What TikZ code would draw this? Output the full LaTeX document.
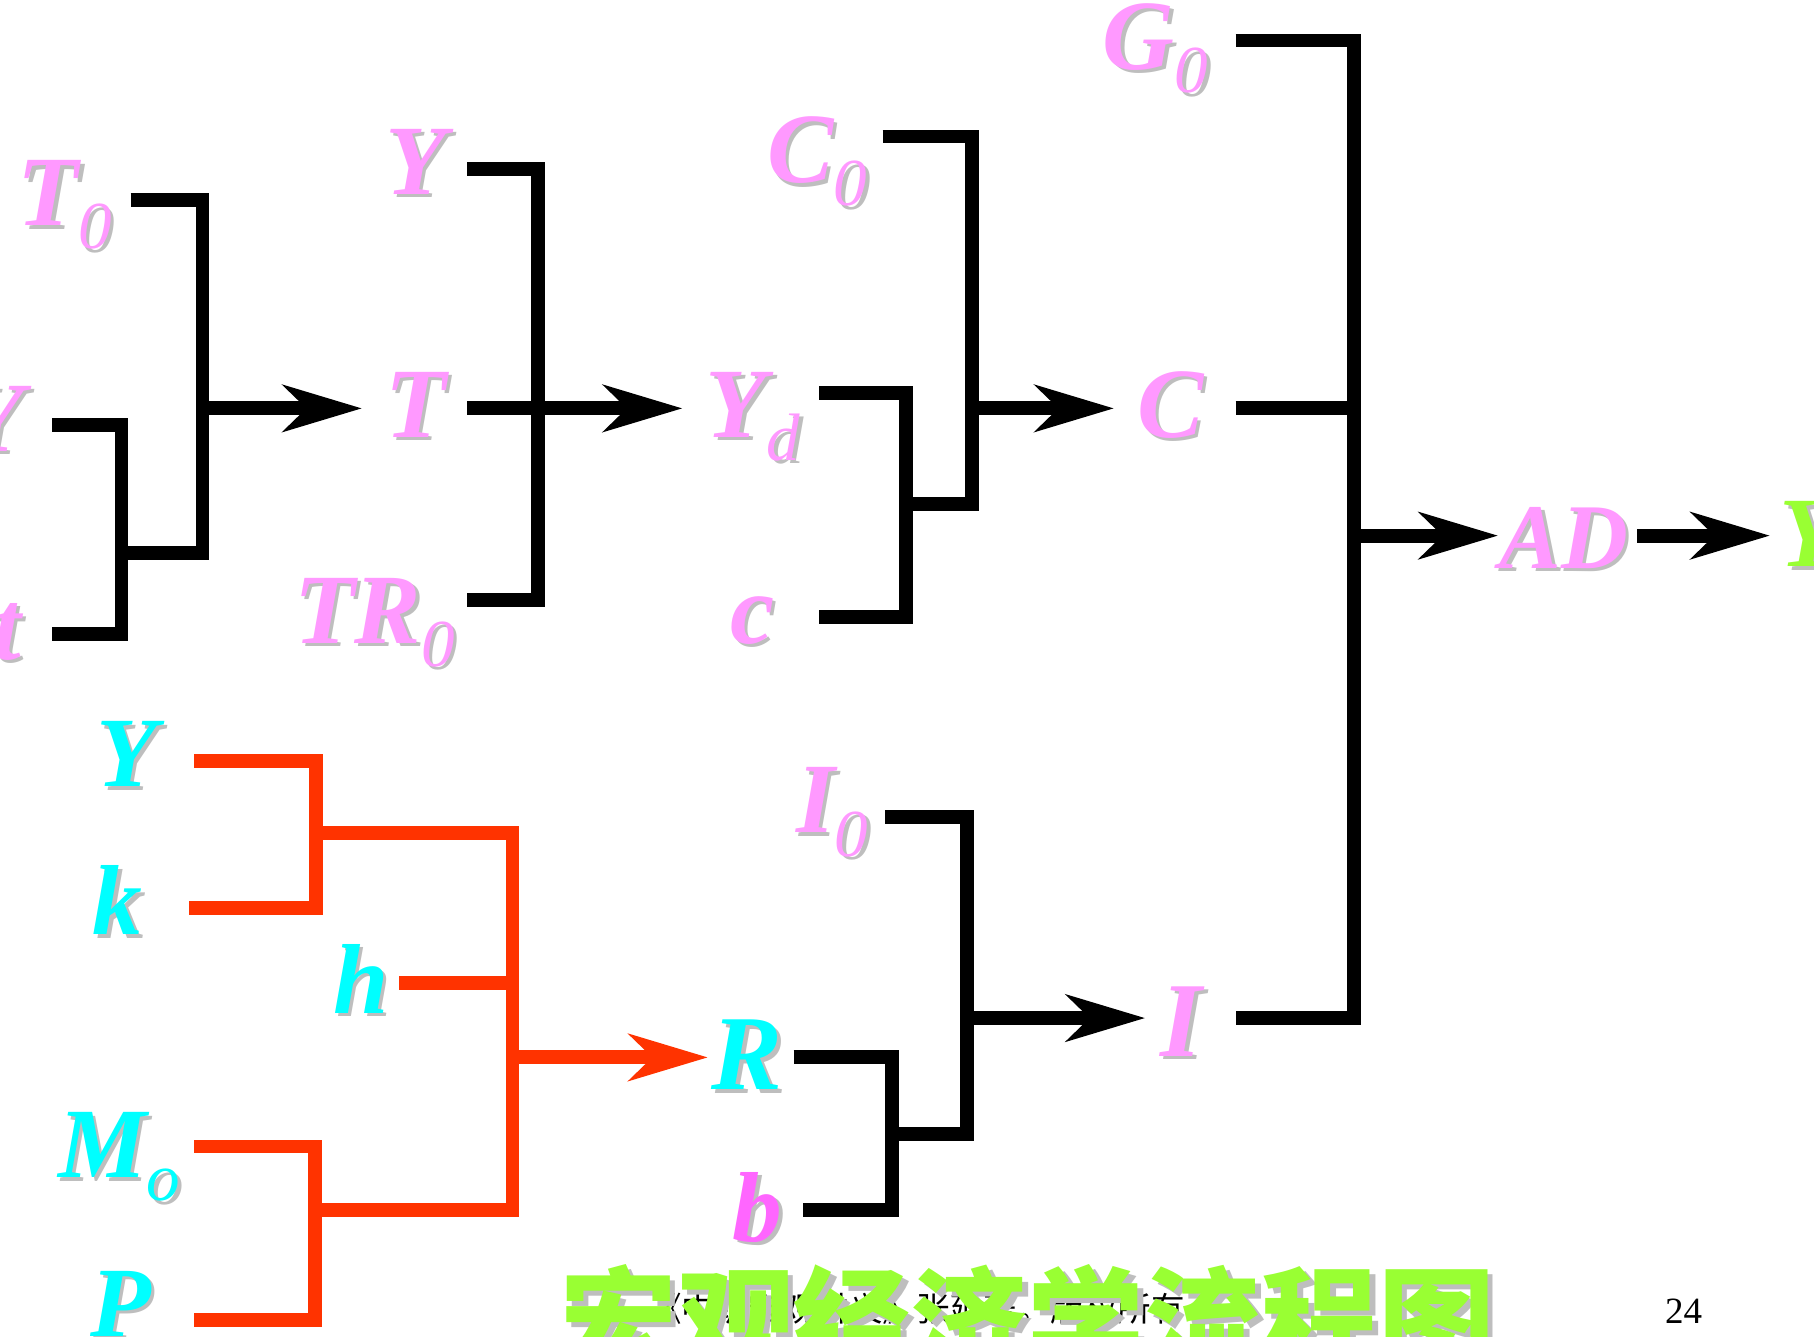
\documentclass[tikz,border=0pt]{standalone}
\usepackage{fontspec}
\setmainfont{Liberation Serif}
\newfontfamily\cjk{Noto Sans CJK SC}
\usetikzlibrary{arrows.meta}
\definecolor{pinkc}{RGB}{255,153,255}
\definecolor{cyanc}{RGB}{0,255,255}
\definecolor{magc}{RGB}{255,102,255}
\definecolor{greenc}{RGB}{153,255,51}
\definecolor{redc}{RGB}{255,51,0}
\definecolor{shgray}{RGB}{190,190,190}
\newcommand\mainf{\fontsize{86}{86}\selectfont\bfseries\itshape}
\newcommand\subf{\fontsize{58}{58}\selectfont\mdseries\itshape}
\newcommand\sh[2]{\rlap{\kern3pt\raisebox{-3pt}{\color{shgray}#2}}{\color{#1}#2}}
\newcommand\shb[2]{\rlap{\kern5pt\raisebox{-5pt}{\color{shgray}#2}}{\color{#1}#2}}
\newcommand\subs[2]{\raisebox{-20pt}{\subf\sh{#1}{#2}}}
\tikzset{
  lbl/.style={anchor=base west, inner sep=0pt, font=\mainf},
  blk/.style={line width=12pt, draw=black, line join=miter},
  red/.style={line width=12pt, draw=redc, line join=miter},
  arr/.style={blk, -{Stealth[length=68pt, width=40pt, inset=20pt]}},
  rarr/.style={red, -{Stealth[length=68pt, width=40pt, inset=20pt, fill=redc]}},
}
\begin{document}
\begin{tikzpicture}[x=1pt, y=-1pt]
\useasboundingbox (0,0) rectangle (1568,1155);
% ---------- labels ----------
\node[lbl] (YA) at (-32,390) {\sh{pinkc}{Y}};
\node[lbl] (tA) at (-6,570) {\sh{pinkc}{t}};
\node[lbl] (T0) at (15,195) {\sh{pinkc}{T}\subs{pinkc}{0}};
\node[lbl] (YB) at (333,168) {\sh{pinkc}{Y}};
\node[lbl] (TB) at (333,378) {\sh{pinkc}{T}};
\node[lbl] (TR0) at (254,556) {\sh{pinkc}{TR}\subs{pinkc}{0}};
\node[lbl] (C0) at (663,158) {\sh{pinkc}{C}\subs{pinkc}{0}};
\node[lbl] (Yd) at (610,378) {\sh{pinkc}{Y}\subs{pinkc}{d}};
\node[lbl] (cc) at (631,556) {\sh{pinkc}{c}};
\node[lbl] (G0) at (953,60) {\sh{pinkc}{G}\subs{pinkc}{0}};
\node[lbl] (CD) at (983,378) {\sh{pinkc}{C}};
\node[lbl, font=\fontsize{92}{92}\selectfont\bfseries\itshape] (ID) at (1003,913) {\sh{pinkc}{I}};
\node[lbl, font=\fontsize{80}{80}\selectfont\bfseries\itshape] (AD) at (1296,491) {\sh{pinkc}{AD}};
\node[lbl] (YE) at (1538,490) {\sh{greenc}{Y}};
\node[lbl] (I0) at (688,720) {\sh{pinkc}{I}\subs{pinkc}{0}};
\node[lbl, font=\fontsize{92}{92}\selectfont\bfseries\itshape] (R) at (615,942) {\sh{cyanc}{R}};
\node[lbl] (b) at (633,1073) {\sh{magc}{b}};
\node[lbl] (YF) at (83,680) {\sh{cyanc}{Y}};
\node[lbl] (k) at (80,808) {\sh{cyanc}{k}};
\node[lbl] (h) at (288,876) {\sh{cyanc}{h}};
\node[lbl] (Mo) at (50,1018) {\sh{cyanc}{M}\subs{cyanc}{o}};
\node[lbl] (P) at (78,1155) {\sh{cyanc}{P}};
% ---------- coordinates ----------
\coordinate (aY) at (45,367);   \coordinate (aYc) at (105,548); \coordinate (at) at (45,548);
\coordinate (aT0) at (113,173); \coordinate (aJc) at (175,478); \coordinate (aJ) at (105,478);
\coordinate (aS) at (175,353);  \coordinate (aTip) at (313,353);
\coordinate (bY) at (404,146);  \coordinate (bTc) at (465,519); \coordinate (bTR) at (404,519);
\coordinate (bT) at (404,353);  \coordinate (bS) at (465,353);  \coordinate (bTip) at (590,353);
\coordinate (cC0) at (763,118); \coordinate (cJc) at (840,436); \coordinate (cJ) at (783,436);
\coordinate (cYd) at (708,340); \coordinate (ccc) at (783,533); \coordinate (cc0) at (708,533);
\coordinate (cS) at (840,353);  \coordinate (cTip) at (963,353);
\coordinate (dG0) at (1068,35); \coordinate (dIc) at (1170,880); \coordinate (dI) at (1068,880);
\coordinate (dC) at (1068,353); \coordinate (dCS) at (1170,353);
\coordinate (dS) at (1170,463); \coordinate (dTip) at (1295,463);
\coordinate (dA) at (1415,463); \coordinate (dTip2) at (1530,463);
\coordinate (eI0) at (765,706); \coordinate (eJc) at (836,980); \coordinate (eJ) at (771,980);
\coordinate (eR) at (686,914);  \coordinate (ebc) at (771,1046); \coordinate (eb) at (694,1046);
\coordinate (eS) at (836,880);  \coordinate (eTip) at (990,880);
\coordinate (fY) at (168,658);  \coordinate (fkc) at (273,785); \coordinate (fk) at (163,785);
\coordinate (fU) at (273,720);  \coordinate (fLc) at (443,1046); \coordinate (fL) at (272,1046);
\coordinate (fh) at (345,850);  \coordinate (fhS) at (443,850);
\coordinate (fM) at (168,991);  \coordinate (fPc) at (272,1141); \coordinate (fP) at (168,1141);
\coordinate (fS) at (443,914);  \coordinate (fTip) at (612,914);
% ---------- black brackets ----------
\draw[blk] (aY) -| (aYc) -- (at);
\draw[blk] (aT0) -| (aJc) -- (aJ);
\draw[arr] (aS) -- (aTip);
\draw[blk] (bY) -| (bTc) -- (bTR);
\draw[blk] (bT) -- (bS);
\draw[arr] (bS) -- (bTip);
\draw[blk] (cC0) -| (cJc) -- (cJ);
\draw[blk] (cYd) -| (ccc) -- (cc0);
\draw[arr] (cS) -- (cTip);
\draw[blk] (dG0) -| (dIc) -- (dI);
\draw[blk] (dC) -- (dCS);
\draw[arr] (dS) -- (dTip);
\draw[arr] (dA) -- (dTip2);
\draw[blk] (eI0) -| (eJc) -- (eJ);
\draw[blk] (eR) -| (ebc) -- (eb);
\draw[arr] (eS) -- (eTip);
% ---------- red brackets ----------
\draw[red] (fY) -| (fkc) -- (fk);
\draw[red] (fU) -| (fLc) -- (fL);
\draw[red] (fh) -- (fhS);
\draw[red] (fM) -| (fPc) -- (fP);
\draw[rarr] (fS) -- (fTip);
% ---------- footer ----------
\node[anchor=base west, inner sep=0pt, font=\cjk\fontsize{29}{29}\selectfont] (foot) at (560,1142) {《中级宏观讲义》张延著。版权所有};
\node[anchor=base west, inner sep=0pt, font=\fontsize{32}{32}\selectfont] (pg) at (1439,1144) {24};
\node[anchor=base west, inner sep=0pt, font=\cjk\bfseries\fontsize{101}{101}\selectfont] (title) at (484,1180) {\shb{greenc}{宏观经济学流程图}};
\end{tikzpicture}
\end{document}
